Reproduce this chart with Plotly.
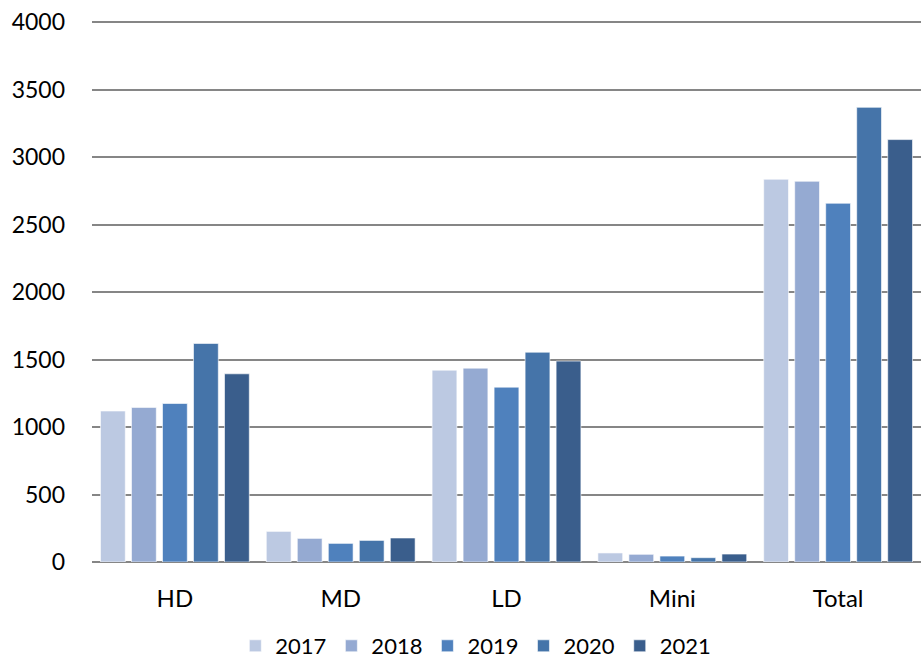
import plotly.graph_objects as go

categories = ["HD", "MD", "LD", "Mini", "Total"]
years = ["2017", "2018", "2019", "2020", "2021"]
v2017 = [1119, 227, 1422, 67, 2837]
v2018 = [1146, 175, 1437, 57, 2822]
v2019 = [1175, 138, 1296, 44, 2659]
v2020 = [1620, 160, 1555, 32, 3370]
v2021 = [1395, 178, 1489, 59, 3131]
series = [v2017, v2018, v2019, v2020, v2021]
colors = ["#BCC9E2", "#95AAD2", "#4F81BD", "#4574A9", "#3A5E8C"]

FONT = "Lato"

fig = go.Figure()
for name, vals, col in zip(years, series, colors):
    fig.add_trace(go.Bar(
        x=categories, y=vals, name=name,
        marker=dict(color=col, line=dict(color="rgba(255,255,255,0.6)", width=1)),
    ))

fig.update_layout(
    width=921, height=662,
    margin=dict(l=92, r=0, t=20.65, b=100, autoexpand=False),
    paper_bgcolor="white", plot_bgcolor="white",
    barmode="group", bargap=0.065, bargroupgap=0.2,
    font=dict(family=FONT, size=23, color="#000000"),
    showlegend=True,
    legend=dict(orientation="h", x=0.463, xanchor="center",
                yref="container", y=1 - 646 / 662, yanchor="middle",
                font=dict(size=22), itemwidth=30, traceorder="normal"),
    xaxis=dict(showgrid=False, showline=False, ticks="", tickfont=dict(size=24),
               automargin=False, ticklabelstandoff=20),
    yaxis=dict(range=[0, 4010], tickvals=[0, 500, 1000, 1500, 2000, 2500, 3000, 3500, 4000],
               showgrid=True, gridcolor="#868686", gridwidth=2,
               zeroline=True, zerolinecolor="#868686", zerolinewidth=2,
               showline=False, ticks="", ticklabelstandoff=26, tickfont=dict(size=23),
               automargin=False),
)

fig.write_html("out.html", config={"displayModeBar": False},
               post_script="document.body.style.margin='0';document.body.style.overflow='hidden';")
